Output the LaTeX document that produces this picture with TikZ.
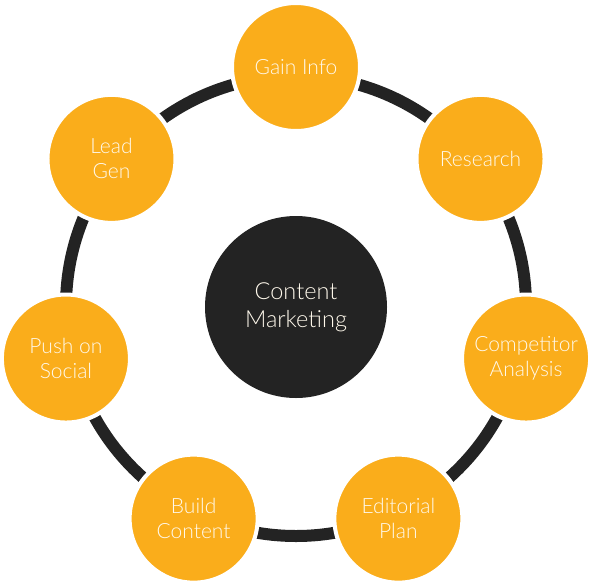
\documentclass[tikz,border=0pt]{standalone}
\usepackage{fontspec}
\IfFontExistsTF{Lato Light}{\setmainfont{Lato Light}}{\setmainfont{Lato}}
\usepackage{tikz}
\usepackage{xcolor}
\usetikzlibrary{positioning,calc}
\definecolor{amber}{RGB}{250,173,27}
\definecolor{ink}{RGB}{35,35,35}
\definecolor{paper}{RGB}{255,249,236}

\begin{document}
\begin{tikzpicture}[x=1pt,y=1pt,
  stage/.style={circle,fill=amber,draw=white,line width=4pt,minimum size=128pt,
    inner sep=0pt,align=center,text=paper,font=\fontsize{21}{25}\selectfont},
  hubbox/.style={circle,fill=ink,minimum size=182pt,inner sep=0pt,align=center,
    text=paper,font=\fontsize{23.5}{28}\selectfont},
  ring/.style={draw=ink,line width=12pt}]
  \useasboundingbox (0,0) rectangle (596,-587);
  \coordinate (mid) at (296,-306);
  \node[hubbox] (hub) at (296,-307) {Content\\Marketing};
  \draw[ring] (mid) circle (230);
  \node[stage] (gain) at ($(mid)+(90:239)$) {Gain Info};
  \node[stage] (res) at ($(mid)+(38.57:236)$) {Research};
  \node[stage] (comp) at ($(mid)+(-12.86:236)$) {Competitor\\Analysis};
  \node[stage] (edit) at ($(mid)+(-64.29:236)$) {Editorial\\Plan};
  \node[stage] (build) at ($(mid)+(-115.71:236)$) {Build\\Content};
  \node[stage] (push) at ($(mid)+(-167.14:236)$) {Push on\\Social};
  \node[stage] (lead) at ($(mid)+(141.43:236)$) {Lead\\Gen};
\end{tikzpicture}
\end{document}
